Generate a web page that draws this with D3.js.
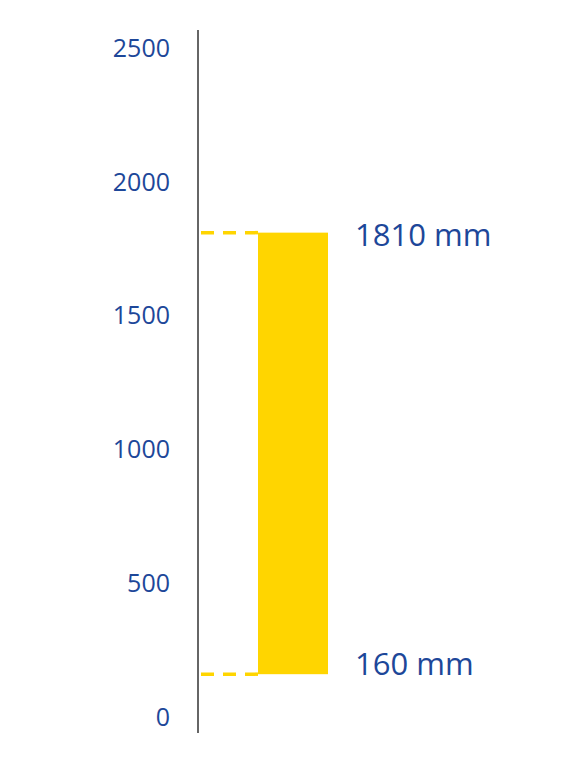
<!DOCTYPE html>
<html>
<head>
<meta charset="utf-8">
<script src="https://cdn.jsdelivr.net/npm/d3@7"></script>
<style>
  body { margin: 0; background: #fff; }
  text { font-family: "Open Sans", sans-serif; }
</style>
</head>
<body>
<svg id="chart" width="586" height="775"></svg>
<script>
// data
var tickValues = [0, 500, 1000, 1500, 2000, 2500];
var rangeValues = [160, 1810];          // min / max height
var rangeLabels = ["160 mm", "1810 mm"];

var blue = "#1d4799",
    gold = "#ffd500";

var svg = d3.select("#chart");

var y = d3.scaleLinear()
    .domain([0, 2500])
    .range([717, 48]);

// axis line (no tick marks), labels on the left
var axisX = 198;
svg.append("line")
    .attr("x1", axisX).attr("x2", axisX)
    .attr("y1", 30).attr("y2", 733)
    .style("stroke", "#333")
    .style("stroke-width", 1.5);

svg.append("g")
    .selectAll("text")
    .data(tickValues)
    .enter()
    .append("text")
    .attr("x", 170)
    .attr("y", function(d) { return y(d); })
    .attr("dy", "0.35em")
    .attr("text-anchor", "end")
    .attr("font-size", 25)
    .attr("fill", blue)
    .text(function(d) { return d; });

// the bar spanning min..max
var barX = 258, barW = 70;
svg.append("rect")
    .attr("x", barX)
    .attr("y", y(rangeValues[1]))
    .attr("width", barW)
    .attr("height", y(rangeValues[0]) - y(rangeValues[1]))
    .style("fill", gold);

// dashed guides back to the axis
svg.append("g")
    .selectAll("line")
    .data(rangeValues)
    .enter()
    .append("line")
    .attr("x1", barX)
    .attr("x2", axisX - 5)
    .attr("y1", function(d) { return y(d); })
    .attr("y2", function(d) { return y(d); })
    .style("stroke", gold)
    .style("stroke-width", 3.5)
    .style("stroke-dasharray", "13,9")
    .style("stroke-dashoffset", 0);

// value labels (lower one sits a bit above its line)
var labelShift = [-10, 3];
svg.append("g")
    .selectAll("text")
    .data(rangeValues)
    .enter()
    .append("text")
    .attr("x", 355)
    .attr("y", function(d, i) { return y(d) + labelShift[i]; })
    .attr("dy", "0.35em")
    .attr("font-size", 31)
    .attr("fill", blue)
    .text(function(d, i) { return rangeLabels[i]; });
</script>
</body>
</html>
